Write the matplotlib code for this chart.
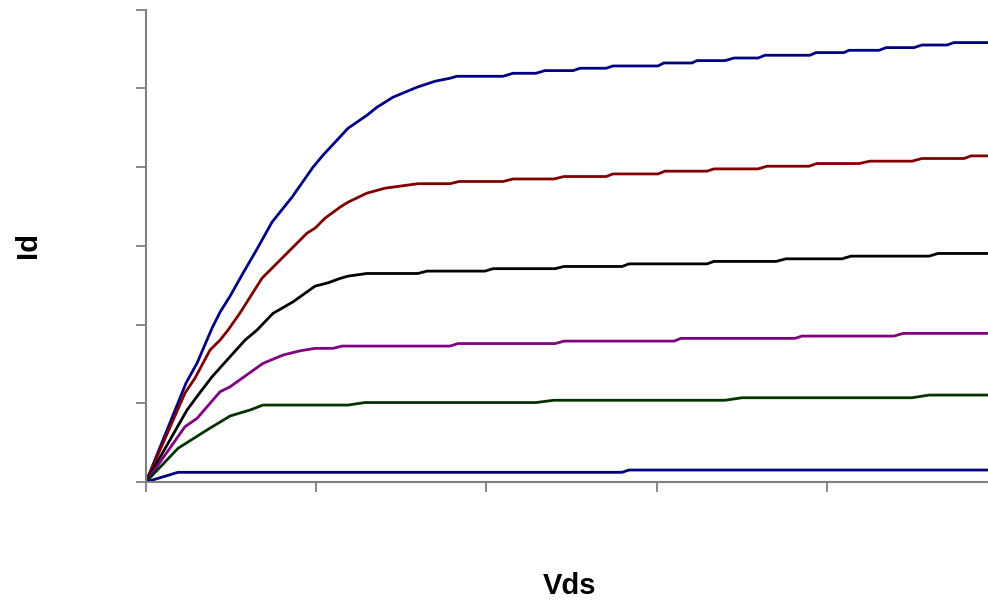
import matplotlib
matplotlib.use('Agg')
import matplotlib.pyplot as plt

plt.rcParams['font.family'] = ['Liberation Sans', 'DejaVu Sans']

# Vds / Id breakpoints, one pair of lists per curve
vds_1 = [0, 0.235, 0.300, 0.388, 0.435, 0.494, 0.570, 0.652, 0.740, 0.858, 0.981, 1.040, 1.187, 1.298,
         1.357, 1.451, 1.592, 1.698, 1.786, 1.827, 2.098, 2.156, 2.291, 2.344, 2.509, 2.550, 2.703, 2.744,
         3.008, 3.043, 3.208, 3.237, 3.402, 3.455, 3.596, 3.637, 3.901, 3.937, 4.101, 4.130, 4.307, 4.348,
         4.512, 4.559, 4.706, 4.747, 4.947]
id_1 = [0, 1.256, 1.510, 1.954, 2.157, 2.360, 2.652, 2.957, 3.299, 3.617, 3.997, 4.150, 4.492, 4.657,
        4.759, 4.886, 5.013, 5.089, 5.127, 5.152, 5.152, 5.190, 5.190, 5.224, 5.224, 5.254, 5.254, 5.283,
        5.283, 5.321, 5.321, 5.351, 5.351, 5.384, 5.384, 5.419, 5.419, 5.453, 5.453, 5.482, 5.482, 5.516,
        5.516, 5.549, 5.549, 5.580, 5.580]

vds_2 = [0, 0.229, 0.288, 0.376, 0.435, 0.482, 0.552, 0.682, 0.805, 0.946, 0.993, 1.052, 1.140, 1.187,
         1.298, 1.404, 1.598, 1.786, 1.839, 2.098, 2.156, 2.397, 2.456, 2.703, 2.744, 3.008, 3.049, 3.296,
         3.337, 3.596, 3.649, 3.895, 3.942, 4.189, 4.254, 4.501, 4.559, 4.806, 4.847, 4.947]
id_2 = [0, 1.129, 1.320, 1.675, 1.802, 1.929, 2.145, 2.589, 2.855, 3.160, 3.223, 3.350, 3.490, 3.553,
        3.668, 3.731, 3.788, 3.788, 3.816, 3.816, 3.848, 3.848, 3.879, 3.879, 3.912, 3.912, 3.947, 3.947,
        3.976, 3.976, 4.010, 4.010, 4.044, 4.044, 4.074, 4.074, 4.108, 4.108, 4.141, 4.141]

vds_3 = [0, 0.241, 0.306, 0.388, 0.476, 0.582, 0.652, 0.746, 0.864, 0.993, 1.069, 1.140, 1.187, 1.298,
         1.598, 1.651, 1.992, 2.039, 2.403, 2.456, 2.797, 2.838, 3.296, 3.337, 3.702, 3.760, 4.089, 4.142,
         4.601, 4.653, 4.947]
id_3 = [0, 0.914, 1.104, 1.336, 1.548, 1.802, 1.929, 2.141, 2.288, 2.487, 2.529, 2.585, 2.614, 2.648,
        2.648, 2.678, 2.678, 2.709, 2.709, 2.737, 2.737, 2.770, 2.770, 2.801, 2.801, 2.834, 2.834, 2.868,
        2.868, 2.902, 2.902]

vds_4 = [0, 0.229, 0.300, 0.435, 0.494, 0.687, 0.805, 0.905, 0.993, 1.099, 1.152, 1.786, 1.833, 2.403,
         2.456, 3.102, 3.143, 3.813, 3.854, 4.395, 4.448, 4.947]
id_4 = [0, 0.702, 0.808, 1.146, 1.209, 1.506, 1.612, 1.666, 1.697, 1.697, 1.726, 1.726, 1.758, 1.758,
        1.789, 1.789, 1.824, 1.824, 1.853, 1.853, 1.887, 1.887]

vds_5 = [0, 0.188, 0.358, 0.494, 0.611, 0.687, 1.187, 1.287, 2.291, 2.397, 3.402, 3.502, 4.501, 4.601, 4.947]
id_5 = [0, 0.428, 0.660, 0.838, 0.914, 0.977, 0.977, 1.009, 1.009, 1.038, 1.038, 1.070, 1.070, 1.104, 1.104]

vds_6 = [0, 0.188, 2.797, 2.838, 4.947]
id_6 = [0, 0.123, 0.123, 0.152, 0.152]

curves = [(vds_1, id_1, '#000080'), (vds_2, id_2, '#800000'), (vds_3, id_3, '#000000'),
          (vds_4, id_4, '#800080'), (vds_5, id_5, '#003300'), (vds_6, id_6, '#000080')]


def main():
    fig = plt.figure(figsize=(9.88, 6.05), dpi=100)
    ax = fig.add_axes([146 / 988, 123 / 605, 842 / 988, 472.5 / 605])

    for xs, ys, color in curves:
        ax.plot(xs, ys, color=color, lw=2.0, solid_joinstyle='round')

    ax.set_xlim(0, 4.947)
    ax.set_ylim(0, 6)
    ax.set_xticks([0, 1, 2, 3, 4])
    ax.set_yticks([0, 1, 2, 3, 4, 5, 6])
    ax.set_xticklabels([])
    ax.set_yticklabels([])
    ax.tick_params(direction='out', length=7, width=1.3, color='#808080')

    for side in ['top', 'right']:
        ax.spines[side].set_visible(False)
    for side in ['left', 'bottom']:
        ax.spines[side].set_color('#808080')
        ax.spines[side].set_linewidth(1.5)

    fig.text(570 / 988, 1 - 586 / 605, 'Vds', fontsize=21, fontweight='bold', ha='center', va='center')
    fig.text(28 / 988, 1 - 245 / 605, 'Id', fontsize=21, fontweight='bold', rotation=90,
             ha='center', va='center')

    fig.savefig('out.png', dpi=100)


if __name__ == '__main__':
    main()
